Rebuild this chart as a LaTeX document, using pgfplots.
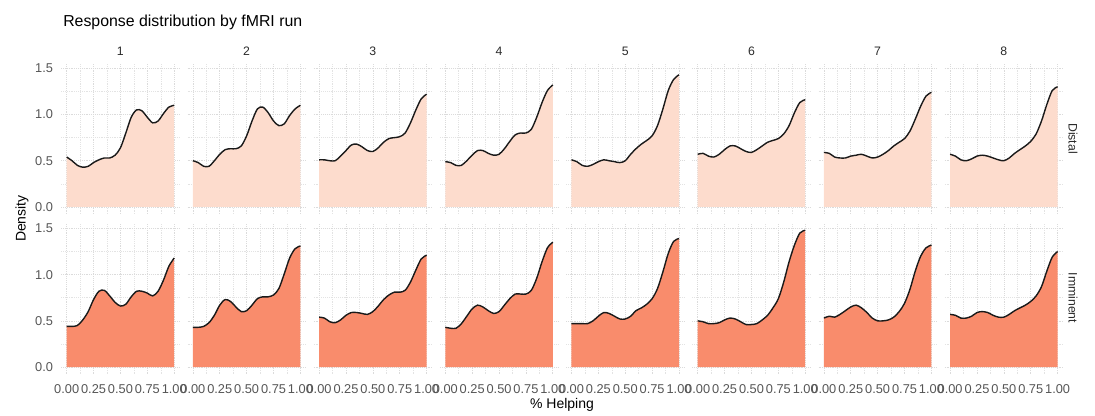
\documentclass[border=0pt]{standalone}
\usepackage{fontspec}
\setmainfont{Liberation Sans}
\usepackage{pgfplots}
\usepackage{pgfplotstable}
\pgfplotsset{compat=1.18}

\definecolor{distal}{HTML}{FDDCCD}
\definecolor{imminent}{HTML}{F98C6C}
\definecolor{ticktext}{HTML}{555555}
\definecolor{striptext}{HTML}{2A2A2A}
\definecolor{curve}{HTML}{1A1A1A}

% density of % helping per run: a = Distal, b = Imminent
\pgfplotstableread{
x    a1   a2   a3   a4   a5   a6   a7   a8   b1   b2   b3   b4   b5   b6   b7   b8
0.00 0.54 0.50 0.51 0.49 0.51 0.57 0.59 0.57 0.44 0.43 0.54 0.43 0.47 0.50 0.53 0.57
0.05 0.50 0.48 0.51 0.48 0.49 0.58 0.58 0.55 0.44 0.43 0.53 0.42 0.47 0.49 0.55 0.56
0.10 0.45 0.44 0.50 0.45 0.45 0.55 0.54 0.51 0.45 0.44 0.49 0.42 0.47 0.47 0.54 0.53
0.15 0.43 0.44 0.50 0.45 0.44 0.54 0.53 0.50 0.51 0.48 0.48 0.47 0.47 0.47 0.57 0.53
0.20 0.44 0.50 0.55 0.50 0.46 0.57 0.53 0.52 0.60 0.56 0.51 0.55 0.50 0.48 0.61 0.55
0.25 0.48 0.57 0.61 0.56 0.49 0.62 0.55 0.55 0.73 0.67 0.56 0.63 0.55 0.51 0.65 0.59
0.30 0.51 0.62 0.67 0.61 0.51 0.66 0.56 0.56 0.82 0.73 0.59 0.67 0.59 0.53 0.67 0.60
0.35 0.53 0.63 0.68 0.61 0.50 0.66 0.57 0.55 0.83 0.71 0.59 0.65 0.58 0.52 0.64 0.59
0.40 0.53 0.63 0.65 0.58 0.49 0.63 0.55 0.53 0.77 0.65 0.58 0.61 0.55 0.49 0.59 0.56
0.45 0.56 0.66 0.61 0.56 0.48 0.60 0.53 0.51 0.70 0.60 0.57 0.58 0.52 0.46 0.53 0.54
0.50 0.64 0.77 0.60 0.57 0.50 0.59 0.54 0.50 0.66 0.61 0.60 0.60 0.52 0.46 0.50 0.54
0.55 0.80 0.93 0.64 0.63 0.57 0.62 0.57 0.53 0.68 0.67 0.66 0.67 0.55 0.47 0.50 0.57
0.60 0.97 1.06 0.70 0.71 0.63 0.66 0.61 0.58 0.76 0.74 0.73 0.74 0.61 0.51 0.51 0.61
0.65 1.05 1.08 0.74 0.78 0.68 0.70 0.66 0.62 0.82 0.76 0.78 0.79 0.64 0.56 0.54 0.64
0.70 1.04 1.02 0.75 0.80 0.72 0.72 0.70 0.66 0.82 0.76 0.81 0.79 0.68 0.64 0.60 0.67
0.75 0.97 0.93 0.76 0.80 0.77 0.74 0.74 0.71 0.80 0.78 0.81 0.79 0.74 0.74 0.69 0.71
0.80 0.91 0.88 0.80 0.84 0.88 0.79 0.82 0.79 0.77 0.85 0.83 0.83 0.85 0.92 0.84 0.77
0.85 0.93 0.90 0.91 0.97 1.06 0.88 0.95 0.93 0.82 1.01 0.92 0.96 1.03 1.14 1.04 0.87
0.90 1.01 0.99 1.05 1.13 1.26 1.02 1.09 1.11 0.94 1.18 1.05 1.14 1.23 1.32 1.20 1.04
0.95 1.08 1.06 1.17 1.26 1.38 1.13 1.20 1.26 1.09 1.28 1.17 1.29 1.36 1.45 1.29 1.19
1.00 1.10 1.10 1.22 1.32 1.43 1.16 1.24 1.30 1.18 1.31 1.21 1.35 1.39 1.48 1.32 1.25
}\runs

\pgfplotsset{
  panel/.style={
    scale only axis,
    width=88.725pt, height=112.875pt,
    anchor=south west,
    xmin=-0.05, xmax=1.05,
    ymin=-0.074, ymax=1.554,
    xtick={0,0.25,0.5,0.75,1},
    minor xtick={0.125,0.375,0.625,0.875},
    ytick={0,0.5,1,1.5},
    minor ytick={0.25,0.75,1.25},
    grid=both,
    major grid style={gray!28, densely dotted, line width=0.5pt},
    minor grid style={gray!22, densely dotted, line width=0.4pt},
    axis line style={draw=none},
    major tick length=0pt, minor tick length=0pt,
    tick style={draw=none},
    /pgf/number format/assume math mode=true,
    ticklabel style={font=\fontsize{9.6}{11}\selectfont, text=ticktext, inner sep=0pt},
    xticklabel style={anchor=north, yshift=-8pt},
    yticklabel style={anchor=east, xshift=-6pt},
    clip=false,
  },
  curveline/.style={draw=curve, line width=1.05pt, smooth, no marks},
}

\begin{document}
\begin{tikzpicture}
\path[use as bounding box] (0,0) rectangle (821.25pt,-311.25pt);

% top row: Distal
\foreach \k in {1,...,8}{
  \pgfmathsetmacro\ax{(61.3+126.2*(\k-1))*0.75}
  \ifnum\k=1
    \pgfplotsset{ylabs/.style={yticklabels={0.0,0.5,1.0,1.5}}}
  \else
    \pgfplotsset{ylabs/.style={yticklabels={}}}
  \fi
  \begin{axis}[panel, ylabs, xticklabels={}, at={(\ax pt,-160.35pt)}]
    \addplot[fill=distal, draw=none, smooth, no marks] table[x=x, y=a\k] {\runs} \closedcycle;
    \addplot[curveline] table[x=x, y=a\k] {\runs};
  \end{axis}
}

% bottom row: Imminent
\foreach \k in {1,...,8}{
  \pgfmathsetmacro\ax{(61.3+126.2*(\k-1))*0.75}
  \ifnum\k=1
    \pgfplotsset{ylabs/.style={yticklabels={0.0,0.5,1.0,1.5}}}
  \else
    \pgfplotsset{ylabs/.style={yticklabels={}}}
  \fi
  \begin{axis}[panel, ylabs, xticklabels={0.00,0.25,0.50,0.75,1.00}, at={(\ax pt,-280.425pt)}]
    \addplot[fill=imminent, draw=none, smooth, no marks] table[x=x, y=b\k] {\runs} \closedcycle;
    \addplot[curveline] table[x=x, y=b\k] {\runs};
  \end{axis}
}

\begin{scope}[x=0.75pt, y=-0.75pt]
  \node[anchor=base west, inner sep=0pt, font=\fontsize{11.9}{13}\selectfont] at (63,26) {Response distribution by fMRI run};
  \foreach \k in {1,...,8}{
    \node[anchor=base, inner sep=0pt, text=striptext, font=\fontsize{9.2}{10}\selectfont] at ({120.4+126.2*(\k-1)},55.5) {\k};
  }
  \node[rotate=-90, inner sep=0pt, text=striptext, font=\fontsize{9.2}{10}\selectfont] at (1073,138.5) {Distal};
  \node[rotate=-90, inner sep=0pt, text=striptext, font=\fontsize{9.2}{10}\selectfont] at (1073,298) {Imminent};
  \node[rotate=90, inner sep=0pt, font=\fontsize{10.5}{12}\selectfont] at (22,218.6) {Density};
  \node[anchor=base, inner sep=0pt, font=\fontsize{10.5}{12}\selectfont] at (562,408) {\% Helping};
\end{scope}
\end{tikzpicture}
\end{document}
